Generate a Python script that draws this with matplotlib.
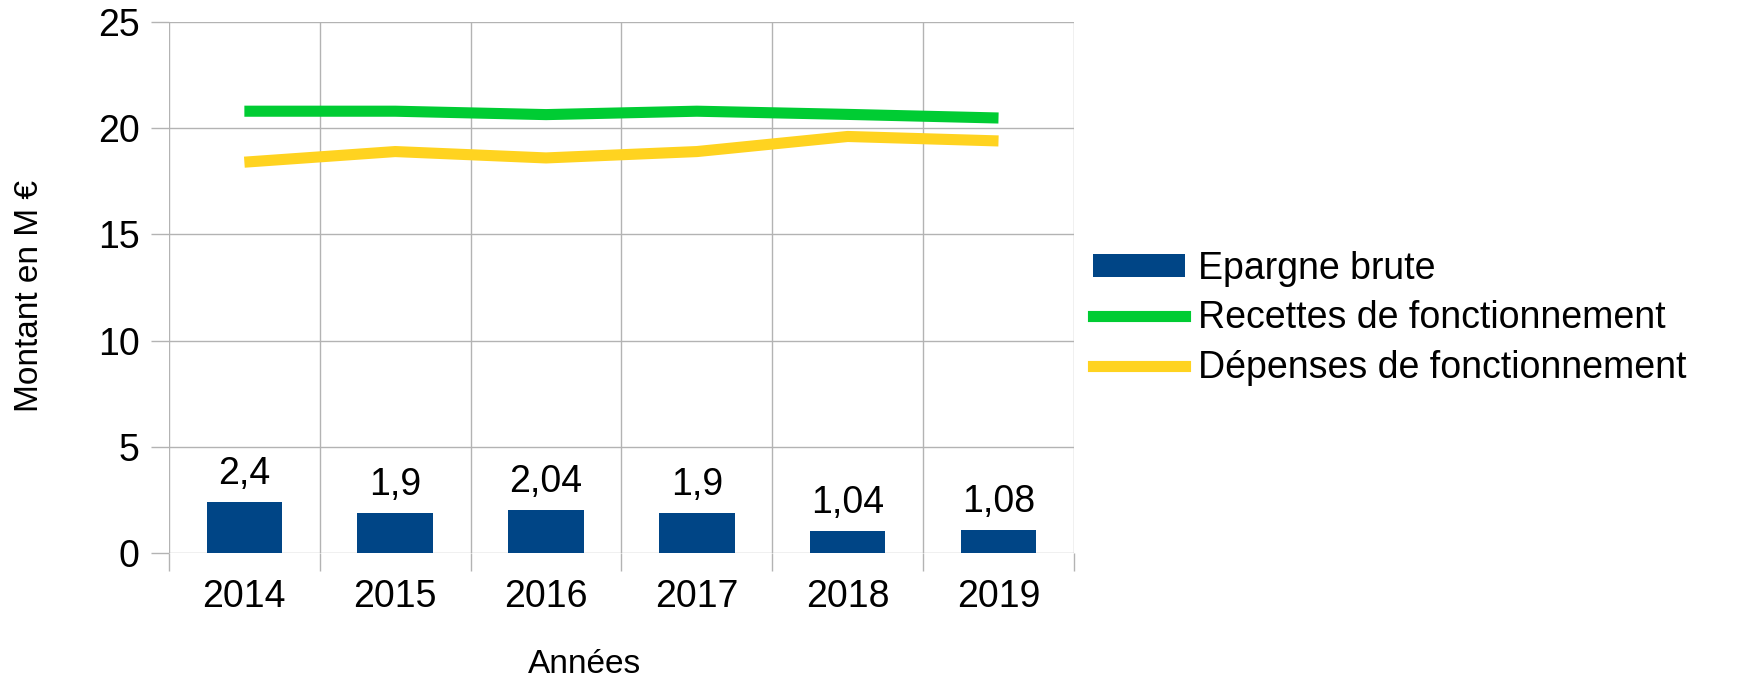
import numpy as np
import matplotlib.pyplot as plt
from matplotlib.patches import Patch
from matplotlib.lines import Line2D

# data
annees = ["2014", "2015", "2016", "2017", "2018", "2019"]
epargne = [2.4, 1.9, 2.04, 1.9, 1.04, 1.08]
epargne_labels = ["2,4", "1,9", "2,04", "1,9", "1,04", "1,08"]
recettes = [20.8, 20.8, 20.64, 20.8, 20.65, 20.48]
depenses = [18.4, 18.9, 18.6, 18.9, 19.61, 19.4]

bleu = "#004586"
vert = "#00cc33"
jaune = "#ffd320"
gris = "#b3b3b3"

plt.rcParams["font.family"] = ["Liberation Sans", "DejaVu Sans"]
fs = 27

fig = plt.figure(figsize=(17.4, 6.79), dpi=100)
ax = fig.add_axes([0.0971, 0.1856, 0.5201, 0.7820])

x = np.arange(len(annees))
ax.bar(x, epargne, width=0.5, color=bleu, zorder=3)
ax.plot(x, recettes, color=vert, linewidth=8, solid_capstyle="butt", zorder=4)
ax.plot(x, depenses, color=jaune, linewidth=8, solid_capstyle="butt", zorder=4)

# etiquettes de valeurs au dessus des barres
for xi, v, lab in zip(x, epargne, epargne_labels):
    ax.annotate(lab, (xi, v), xytext=(0, 7), textcoords="offset points",
                ha="center", va="bottom", fontsize=fs)

ax.set_xlim(-0.5, 5.5)
ax.set_ylim(0, 25)
ax.set_yticks([0, 5, 10, 15, 20, 25])
ax.set_xticks(x)
ax.set_xticklabels(annees)
ax.set_xticks(np.arange(-0.5, 6, 1), minor=True)

for s in ax.spines.values():
    s.set_visible(False)

ax.grid(axis="y", which="major", color=gris, linewidth=1, zorder=0)
ax.grid(axis="x", which="minor", color=gris, linewidth=1, zorder=0)
ax.tick_params(axis="x", which="major", length=0, pad=19, labelsize=fs)
ax.tick_params(axis="x", which="minor", length=13, color=gris, width=1)
ax.tick_params(axis="y", which="major", length=13, color=gris, width=1,
               pad=8, labelsize=fs)

fig.text(0.336, 0.021, "Années", fontsize=24, ha="center", va="center")
fig.text(0.0172, 0.564, "Montant en M €", fontsize=24, ha="center",
         va="center", rotation=90)

handles = [
    Patch(facecolor=bleu, edgecolor="none"),
    Line2D([0], [0], color=vert, linewidth=8),
    Line2D([0], [0], color=jaune, linewidth=8),
]
labels = ["Epargne brute", "Recettes de fonctionnement", "Dépenses de fonctionnement"]
fig.legend(handles, labels, loc="center left", bbox_to_anchor=(0.628, 0.531),
           frameon=False, fontsize=fs, handlelength=2.45, handleheight=0.58,
           handletextpad=0.35, labelspacing=0.36, borderpad=0, borderaxespad=0)

fig.savefig("out.png", dpi=100)
